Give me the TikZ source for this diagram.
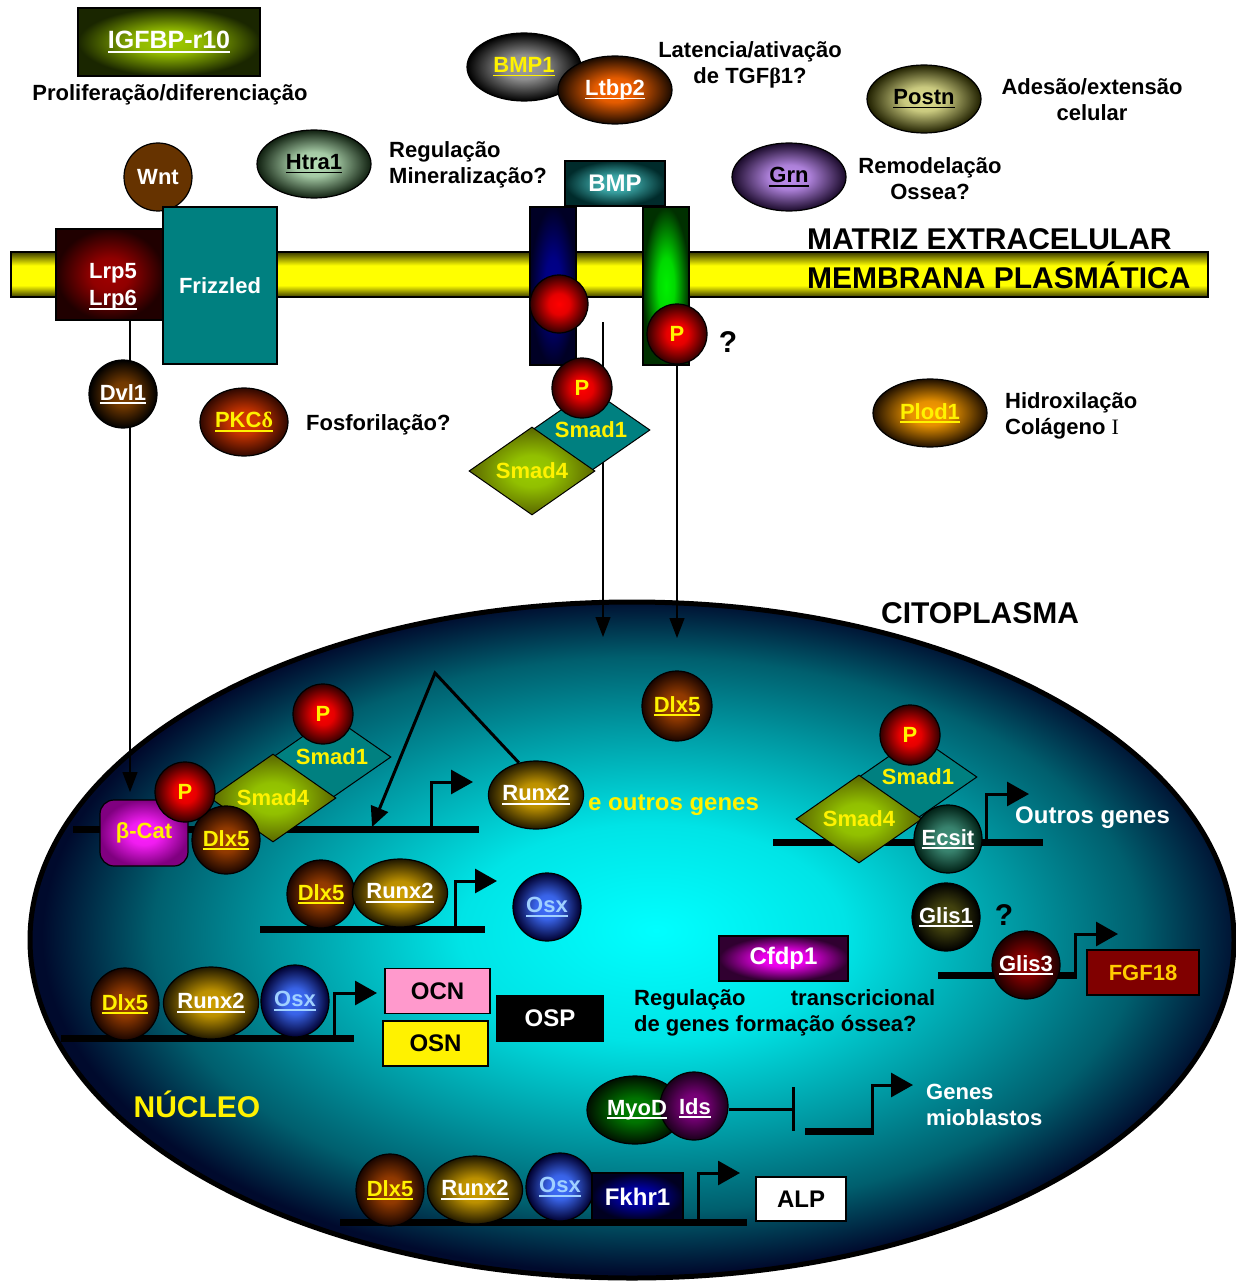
\documentclass[tikz,border=0pt]{standalone}
\usepackage{fontspec}
\setmainfont{Liberation Sans}
\newfontfamily\romanfont{Liberation Serif}
\usepackage{tikz}
\usetikzlibrary{shapes.geometric, arrows.meta}

% colours of the proteins
\definecolor{igfcore}{HTML}{A0CC00}
\definecolor{igfedge}{HTML}{1A2600}
\definecolor{bmpcore}{HTML}{40B0B0}
\definecolor{bmpedge}{HTML}{002B2B}
\definecolor{htracore}{HTML}{B8E0B8}
\definecolor{htraedge}{HTML}{102010}
\definecolor{bmponecore}{HTML}{A0A0A0}
\definecolor{ltbpcore}{HTML}{FF6600}
\definecolor{ltbpedge}{HTML}{1A0A00}
\definecolor{postncore}{HTML}{E0E090}
\definecolor{postnedge}{HTML}{202000}
\definecolor{grncore}{HTML}{C090F0}
\definecolor{grnedge}{HTML}{1A0A2A}
\definecolor{wntbrown}{HTML}{663300}
\definecolor{lrpcore}{HTML}{A00000}
\definecolor{lrpedge}{HTML}{200000}
\definecolor{frizteal}{HTML}{008080}
\definecolor{rbluecore}{HTML}{000090}
\definecolor{rblueedge}{HTML}{000025}
\definecolor{rgreencore}{HTML}{00F000}
\definecolor{rgreenedge}{HTML}{003000}
\definecolor{pcore}{HTML}{FF0000}
\definecolor{pedge}{HTML}{300000}
\definecolor{dvlcore}{HTML}{804000}
\definecolor{pkccore}{HTML}{D83800}
\definecolor{pkcedge}{HTML}{300800}
\definecolor{plodcore}{HTML}{FFA000}
\definecolor{plodedge}{HTML}{201000}
\definecolor{smadteal}{HTML}{008080}
\definecolor{smadcore}{HTML}{99CC00}
\definecolor{smadedge}{HTML}{5A6600}
\definecolor{bcatcore}{HTML}{FF20FF}
\definecolor{bcatedge}{HTML}{800080}
\definecolor{dlxcore}{HTML}{A04000}
\definecolor{dlxedge}{HTML}{1A0500}
\definecolor{runxcore}{HTML}{D0A000}
\definecolor{runxedge}{HTML}{201800}
\definecolor{osxcore}{HTML}{4070FF}
\definecolor{osxedge}{HTML}{000030}
\definecolor{osxtext}{HTML}{A0D0FF}
\definecolor{ecsitcore}{HTML}{40907A}
\definecolor{ecsitedge}{HTML}{002015}
\definecolor{glisonecore}{HTML}{4A4A10}
\definecolor{glisthreecore}{HTML}{900000}
\definecolor{glisthreeedge}{HTML}{1A0000}
\definecolor{fgfred}{HTML}{800000}
\definecolor{fgftext}{HTML}{FFCC00}
\definecolor{cfdpcore}{HTML}{FF00FF}
\definecolor{cfdpedge}{HTML}{300030}
\definecolor{myodcore}{HTML}{008000}
\definecolor{myodedge}{HTML}{001000}
\definecolor{idscore}{HTML}{800080}
\definecolor{idsedge}{HTML}{1A001A}
\definecolor{fkhrcore}{HTML}{0000B0}
\definecolor{fkhredge}{HTML}{000020}
\definecolor{ocnpink}{HTML}{FF99CC}
\definecolor{membdark}{HTML}{3A3A00}
\definecolor{membyellow}{HTML}{FFFF00}
% nucleus glow
\definecolor{nuccyan}{RGB}{0,255,255}
\definecolor{nucbright}{RGB}{0,228,230}
\definecolor{nucmid}{RGB}{0,150,160}
\definecolor{nucdeep}{RGB}{0,95,110}
\definecolor{nucedge}{RGB}{0,10,45}
\pgfdeclareradialshading{nucleusglow}{\pgfpoint{1bp}{0.7bp}}{%
  color(0bp)=(nuccyan); color(8bp)=(nucbright); color(15.5bp)=(nucmid);
  color(20.5bp)=(nucdeep); color(25bp)=(nucedge); color(50bp)=(nucedge)}
% lipid bilayer, dark rims and a broad yellow band
\pgfdeclareverticalshading{bilayer}{100bp}{%
  color(0bp)=(membdark); color(25bp)=(membdark); color(38bp)=(membyellow);
  color(60bp)=(membyellow); color(75bp)=(membdark); color(100bp)=(membdark)}

% protein glow, bright core and dark rim
\colorlet{glowcore}{white}
\colorlet{glowedge}{black}
\pgfdeclareradialshading[glowcore,glowedge]{glowball}{\pgfpoint{0bp}{0bp}}{%
  color(0bp)=(glowcore); color(9bp)=(glowcore!88!glowedge);
  color(25bp)=(glowedge); color(50bp)=(glowedge)}

% thick underline in the colour of the text
\newcommand{\undl}[1]{\setbox0\hbox{#1}\rlap{\rule[-0.17em]{\wd0}{0.085em}}\box0}

\begin{document}
\begin{tikzpicture}[x=1pt, y=-1pt,
    every node/.style={font=\fontsize{22}{26}\selectfont\bfseries, inner sep=0pt},
    big/.style={font=\fontsize{30}{34}\selectfont\bfseries},
    mid/.style={font=\fontsize{24}{28}\selectfont\bfseries},
    mol/.style={ellipse, draw, line width=1.2, minimum width=114, minimum height=68},
    ball/.style={circle, draw, line width=1.2, minimum size=68},
    glow/.style 2 args={/utils/exec={\colorlet{glowcore}{#1}\colorlet{glowedge}{#2}}, shade, shading=glowball},
    pball/.style={circle, draw, line width=1.2, minimum size=60, glow={pcore}{pedge}, text=yellow},
    tag/.style={rectangle, draw, line width=1.2, minimum height=45},
    smadone/.style={diamond, draw, line width=1, fill=smadteal, shape aspect=1.45, minimum width=118, minimum height=82, text=yellow},
    smadfour/.style={diamond, draw, line width=1, glow={smadcore}{smadedge}, shape aspect=1.45, minimum width=126, minimum height=88, text=yellow},
    dna/.style={line width=7},
    prom/.style={line width=3, -{Triangle[length=22pt, width=24pt]}},
    signal/.style={line width=1.3, -{Triangle[length=20pt, width=15pt]}}]

  \fill[white] (0,0) rectangle (1235,1281);
  \useasboundingbox (0,0) rectangle (1235,1281);

  % nucleus
  \draw[line width=5, shade, shading=nucleusglow] (632,940) ellipse [x radius=602, y radius=338];

  % signals into the nucleus
  \coordinate (wntsig) at (130,320);
  \coordinate (bcatin) at (130,792);
  \coordinate (smadsig) at (603,322);
  \coordinate (nucin1) at (603,637);
  \coordinate (nucin2) at (677,638);
  \draw[signal] (wntsig) -- (bcatin);
  \draw[signal] (smadsig) -- (nucin1);

  % extracellular matrix proteins
  \node[tag, minimum width=182, minimum height=68, glow={igfcore}{igfedge}, text=white, font=\fontsize{25}{30}\selectfont\bfseries] (igfbp) at (169,42) {\undl{IGFBP-r10}};
  \node (prolif) at (170,95) {Proliferação/diferenciação};
  \node[ball, fill=wntbrown, text=white] (wnt) at (158,177) {Wnt};
  \node[mol, glow={htracore}{htraedge}] (htra) at (314,164) {\undl{Htra1}};
  \node[anchor=west, align=left] (htratxt) at (389,165) {Regulação\\Mineralização?};
  \node[mol, glow={bmponecore}{black}, text=yellow] (bmpone) at (524,67) {\undl{BMP1}};
  \node[mol, glow={ltbpcore}{ltbpedge}, text=white] (ltbp) at (615,90) {\undl{Ltbp2}};
  \node[align=center] (ltbptxt) at (750,65) {Latencia/ativação\\de TGF{\romanfont β}1?};
  \node[mol, glow={postncore}{postnedge}] (postn) at (924,99) {\undl{Postn}};
  \node[align=center] (postntxt) at (1092,100) {Adesão/extensão\\celular};
  \node[mol, glow={grncore}{grnedge}] (grn) at (789,177) {\undl{Grn}};
  \node[align=center] (grntxt) at (930,179) {Remodelação\\Ossea?};
  \node[tag, minimum width=100, glow={bmpcore}{bmpedge}, text=white, mid] (bmp) at (615,183.5) {BMP};

  % membrane
  \draw[line width=1.5, shade, shading=bilayer] (11,252) rectangle (1208,297);
  \node[big, anchor=west] (ecm) at (807,239) {MATRIZ EXTRACELULAR};
  \node[big, anchor=west] (pm) at (807,275) {MEMBRANA PLASMÁTICA};

  % Wnt receptors
  \node[tag, minimum width=108, minimum height=91, glow={lrpcore}{lrpedge}] (lrp) at (110,274.5) {};
  \node[text=white, align=center, font=\fontsize{22}{27}\selectfont\bfseries] (lrptxt) at (113,287) {Lrp5\\\undl{Lrp6}};
  \node[tag, minimum width=114, minimum height=157, fill=frizteal, text=white] (fzd) at (220,285.5) {Frizzled};

  % BMP receptors
  \node[tag, minimum width=46, minimum height=158, glow={rbluecore}{rblueedge}] (rblue) at (553,286) {};
  \node[tag, minimum width=46, minimum height=158, glow={rgreencore}{rgreenedge}] (rgreen) at (666,286) {};
  \node[circle, draw, line width=1.2, minimum size=58, glow={pcore}{pedge}] (rdot) at (559,304) {};
  \node[pball] (pgreen) at (677,334) {P};
  \node[big] (qgreen) at (728,342) {?};
  \draw[signal] (pgreen.south) -- (nucin2);

  % Smad complex under the receptor
  \node[smadone] (smadone) at (591,430) {Smad1};
  \node[smadfour] (smadfour) at (532,471) {Smad4};
  \node[pball] (psmad) at (582,388) {P};

  % cytoplasm
  \node[ball, glow={dvlcore}{black}, text=white] (dvl) at (123,394) {\undl{Dvl1}};
  \node[mol, minimum width=88, glow={pkccore}{pkcedge}, text=yellow] (pkc) at (244,422) {\undl{PKC{\romanfont δ}}};
  \node[anchor=west] (pkctxt) at (306,425) {Fosforilação?};
  \node[mol, glow={plodcore}{plodedge}, text=yellow] (plod) at (930,413) {\undl{Plod1}};
  \node[anchor=west, align=left] (plodtxt) at (1005,416) {Hidroxilação\\Colágeno {\romanfont\mdseries I}};
  \node[big] (cyto) at (980,613) {CITOPLASMA};

  % beta-catenin and Smad on the Runx2 promoter
  \draw[dna] (73,829) -- (479,829);
  \node[smadone] (smadoneb) at (332,757) {Smad1};
  \node[smadfour] (smadfourb) at (273,798) {Smad4};
  \node[rectangle, rounded corners=14, draw, line width=1.2, minimum width=88, minimum height=66, glow={bcatcore}{bcatedge}, text=yellow] (bcat) at (144,833) {β-Cat};
  \node[ball, glow={dlxcore}{dlxedge}, text=yellow] (dlxb) at (226,840) {\undl{Dlx5}};
  \node[pball] (pbcat) at (185,792) {P};
  \node[pball] (psmadb) at (323,714) {P};
  \draw[prom] (431,829) |- (473,782);
  \node[mol, minimum width=92, glow={runxcore}{runxedge}, text=white] (runxa) at (536,795) {\undl{Runx2}};
  \coordinate (loopapex) at (435,673);
  \coordinate (dnatip) at (372,827);
  \draw[line width=3, -{Triangle[length=20pt, width=18pt]}] (runxa.118) -- (loopapex) -- (dnatip);
  \node[mid, text=yellow, anchor=west] (outrosa) at (588,805) {e outros genes};
  \node[ball, minimum size=70, glow={dlxcore}{dlxedge}, text=yellow] (dlxfree) at (677,706) {\undl{Dlx5}};

  % Smad and Ecsit
  \draw[dna] (773,842) -- (1043,842);
  \node[smadone] (smadonec) at (918,777) {Smad1};
  \node[smadfour] (smadfourc) at (859,819) {Smad4};
  \node[ball, glow={ecsitcore}{ecsitedge}, text=white] (ecsit) at (948,839) {\undl{Ecsit}};
  \node[pball] (psmadc) at (910,735) {P};
  \draw[prom] (986,842) |- (1029,794);
  \node[mid, text=white, anchor=west] (outrosb) at (1015,818) {Outros genes};

  % Dlx5 and Runx2 on the Osx promoter
  \draw[dna] (260,929) -- (485,929);
  \node[ball, glow={dlxcore}{dlxedge}, text=yellow] (dlxc) at (321,894) {\undl{Dlx5}};
  \node[mol, minimum width=92, glow={runxcore}{runxedge}, text=white] (runxb) at (400,893) {\undl{Runx2}};
  \draw[prom] (455,929) |- (497,881);
  \node[ball, glow={osxcore}{osxedge}, text=osxtext] (osxa) at (547,907) {\undl{Osx}};

  % matrix genes
  \draw[dna] (61,1038) -- (354,1038);
  \node[mol, minimum width=68, minimum height=72, glow={dlxcore}{dlxedge}, text=yellow] (dlxd) at (125,1004) {\undl{Dlx5}};
  \node[mol, minimum width=92, minimum height=72, glow={runxcore}{runxedge}, text=white] (runxc) at (211,1003) {\undl{Runx2}};
  \node[mol, minimum width=68, minimum height=72, glow={osxcore}{osxedge}, text=osxtext] (osxb) at (295,1001) {\undl{Osx}};
  \draw[prom] (334,1038) |- (377,993);
  \node[tag, minimum width=105, fill=ocnpink, mid] (ocn) at (437.5,991) {OCN};
  \node[tag, minimum width=105, fill=yellow, mid] (osn) at (435.5,1043.5) {OSN};
  \node[tag, minimum width=106, fill=black, text=white, mid] (osp) at (550,1018.5) {OSP};

  % Cfdp1
  \node[tag, minimum width=129, glow={cfdpcore}{cfdpedge}, text=white, mid] (cfdp) at (783.5,958.5) {Cfdp1};
  \node[anchor=west, align=left] (cfdptxt) at (634,1013) {\makebox[301pt][l]{Regulação\hfill transcricional}\\de genes formação óssea?};

  % Glis1 and Glis3 on FGF18
  \node[ball, glow={glisonecore}{black}, text=white] (glisone) at (946,917) {\undl{Glis1}};
  \node[big] (qglis) at (1004,915) {?};
  \draw[dna] (938,975) -- (1077,975);
  \node[ball, glow={glisthreecore}{glisthreeedge}, text=white] (glisthree) at (1026,965) {\undl{Glis3}};
  \draw[prom] (1075,975) |- (1118,934);
  \node[tag, minimum width=112, fill=fgfred, text=fgftext] (fgf) at (1143,972.5) {FGF18};

  \node[big, text=yellow] (nucleo) at (197,1104) {NÚCLEO};

  % MyoD/Ids block myoblast genes
  \node[mol, minimum width=96, glow={myodcore}{myodedge}] (myod) at (635,1110) {};
  \node[ball, glow={idscore}{idsedge}] (ids) at (694,1106) {};
  \node[text=white] (myodlbl) at (637,1110) {\undl{MyoD}};
  \node[text=white] (idslbl) at (695,1108) {\undl{Ids}};
  \coordinate (myoblock) at (795,1109);
  \draw[line width=3, -{Bar[width=44pt]}] (ids.east |- myoblock) -- (myoblock);
  \draw[line width=7] (805,1131) -- (874,1131);
  \draw[prom] (872,1131) |- (913,1085);
  \node[anchor=west, align=left, text=white] (myotxt) at (926,1105) {Genes\\mioblastos};

  % ALP promoter
  \draw[dna] (340,1222) -- (747,1222);
  \node[mol, minimum width=68, minimum height=72, glow={dlxcore}{dlxedge}, text=yellow] (dlxe) at (390,1190) {\undl{Dlx5}};
  \node[mol, minimum width=92, glow={runxcore}{runxedge}, text=white] (runxd) at (475,1190) {\undl{Runx2}};
  \node[ball, glow={osxcore}{osxedge}, text=osxtext] (osxc) at (560,1187) {\undl{Osx}};
  \node[tag, minimum width=91, minimum height=47, glow={fkhrcore}{fkhredge}, text=white, mid] (fkhr) at (637.5,1196.5) {Fkhr1};
  \draw[prom] (698,1222) |- (740,1173);
  \node[tag, minimum width=90, minimum height=44, fill=white, mid] (alp) at (801,1199) {ALP};
\end{tikzpicture}
\end{document}
